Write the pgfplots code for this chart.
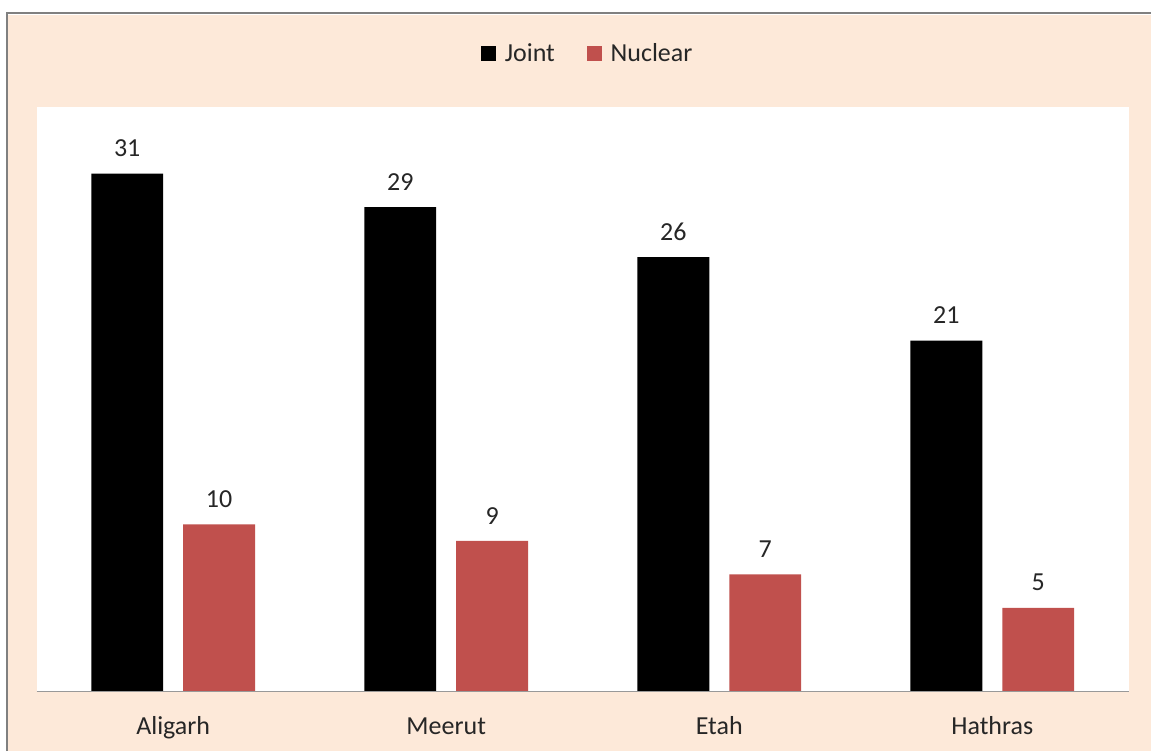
\documentclass[border=0pt]{standalone}
\usepackage{fontspec}
\setmainfont{Carlito}
\usepackage{pgfplots}
\pgfplotsset{compat=1.18}
\definecolor{peach}{HTML}{FDE9D9}
\definecolor{nuc}{HTML}{C0504D}
\definecolor{bord}{HTML}{808080}
\begin{document}
\begin{tikzpicture}[x=1pt,y=1pt]
\fill[white] (0,0) rectangle (576,376);
\fill[peach] (4,0) rectangle (576,368.5);
\draw[bord, line width=1.2pt] (3.6,0) -- (3.6,369.6) -- (576,369.6);
\begin{axis}[
  at={(18.35pt,30pt)}, anchor=south west,
  scale only axis, width=546.65pt, height=292.5pt,
  axis background/.style={fill=white},
  axis line style={draw=none},
  ybar=10pt, bar width=36pt,
  ymin=0, ymax=35, xmin=-0.5, xmax=3.5,
  xtick={0,1,2,3}, xticklabels={Aligarh,Meerut,Etah,Hathras},
  ytick=\empty, major tick length=0pt,
  /pgf/number format/assume math mode=true,
  xticklabel style={font=\fontsize{13}{15}\selectfont, anchor=base, yshift=-21.5pt, text=black!85},
  nodes near coords,
  every node near coord/.append style={font=\fontsize{13}{15}\selectfont, anchor=base, yshift=8.5pt, text=black!85},
  legend style={at={(0.5,1)}, anchor=center, yshift=26.5pt, xshift=3pt, draw=none, fill=none,
    font=\fontsize{13}{15}\selectfont, text=black!85,
    /tikz/every odd column/.append style={column sep=2.5pt},
    /tikz/every even column/.append style={column sep=14pt}},
  legend columns=-1,
  legend image code/.code={\fill[#1] (0pt,-3.6pt) rectangle (7.4pt,3.8pt);},
]
\addplot[fill=black, draw=none] coordinates {(0,31) (1,29) (2,26) (3,21)};
\addplot[fill=nuc, draw=none] coordinates {(0,10) (1,9) (2,7) (3,5)};
\legend{Joint,Nuclear}
\draw[gray!80, line width=0.7pt] (rel axis cs:0,0) -- (rel axis cs:1,0);
\end{axis}
\end{tikzpicture}
\end{document}
